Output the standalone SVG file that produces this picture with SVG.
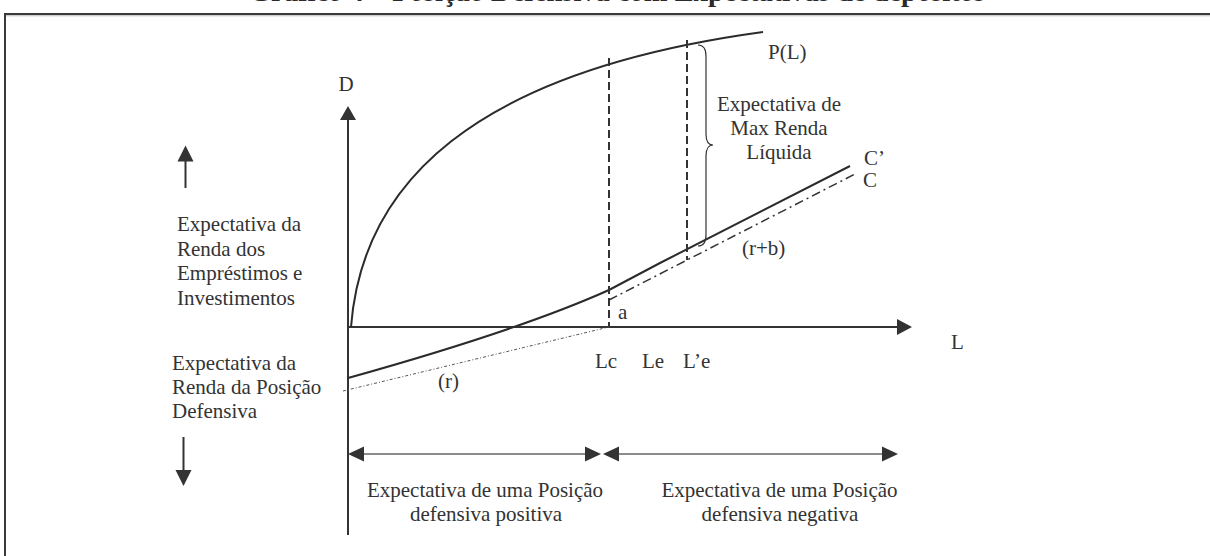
<svg xmlns="http://www.w3.org/2000/svg" width="1210" height="556" viewBox="0 0 1210 556">
<style>
text{font-family:"Liberation Serif","Times New Roman",serif;font-size:21px;fill:#333}
.title{font-weight:bold;font-size:28.5px;fill:#2a2a2a}
.ax{stroke:#333;stroke-width:2;fill:none}
.head{fill:#333;stroke:none}
.dash{stroke:#333;stroke-width:2;stroke-dasharray:8 4;fill:none}
.dd{stroke:#333;stroke-width:1.5;stroke-dasharray:9 4 2 4;fill:none}
.dot{stroke:#555;stroke-width:1;stroke-dasharray:3 2 1 2;fill:none}
.thin{stroke:#666;stroke-width:1.5;fill:none}
.cur{stroke:#2b2b2b;stroke-width:2;fill:none}
.mid{text-anchor:middle}
</style>
<rect width="1210" height="556" fill="#fff"/>
<g id="frame">
<text class="title mid" x="617" y="0.5">Gráfico 4 – Posição Defensiva com Expectativas de depósitos</text>
<line x1="4" y1="14" x2="1210" y2="14" stroke="#3a3a3a" stroke-width="2"/>
<line x1="6" y1="15.8" x2="1210" y2="15.8" stroke="#bbb" stroke-width="1"/>
<line x1="5" y1="13" x2="5" y2="556" stroke="#3a3a3a" stroke-width="2"/>
</g>
<g id="axis-D">
<line class="ax" x1="348" y1="535" x2="348" y2="118"/>
<polygon class="head" points="348,106 340,120 356,120"/>
<text class="mid" x="346" y="91">D</text>
</g>
<g id="axis-L">
<line class="ax" x1="348" y1="327" x2="899" y2="327"/>
<polygon class="head" points="912,327 897,319 897,335"/>
<text x="951" y="349">L</text>
</g>
<g id="connectors">
<path id="curve-PL" class="cur" d="M351,327 C362,185 470,72 763,32"/>
<path id="curve-Cp" class="cur" d="M348,378 Q520,330 609,290 Q630,279 660,263 L850,166"/>
<line id="line-C" class="dd" x1="609" y1="300" x2="857" y2="173"/>
<line id="line-r" class="dot" x1="343" y1="391" x2="609" y2="327"/>
<line id="v-Lc" class="dash" x1="609" y1="58" x2="609" y2="327"/>
<line id="v-Le" class="dash" x1="687" y1="40" x2="687" y2="260"/>
<path id="brace" d="M698,45 Q706,45 706,56 L706,134 Q706,145 713,145 Q706,145 706,156 L706,235 Q706,246 698,246" stroke="#333" stroke-width="1.2" fill="none"/>
</g>
<g id="labels-curves">
<text x="768" y="59">P(L)</text>
<text class="mid" x="779" y="111">Expectativa de</text>
<text class="mid" x="779" y="135">Max Renda</text>
<text class="mid" x="779" y="159">Líquida</text>
<text x="864" y="165">C’</text>
<text x="863" y="187">C</text>
<text x="742" y="255">(r+b)</text>
<text x="618" y="319">a</text>
<text x="438" y="388">(r)</text>
<text x="595" y="368">Lc</text>
<text x="642" y="368">Le</text>
<text x="683" y="368">L’e</text>
</g>
<g id="left-upper">
<line class="ax" x1="185.5" y1="188" x2="185.5" y2="160"/>
<polygon class="head" points="185.5,145.5 177.5,161.5 193.5,161.5"/>
<text x="177" y="231">Expectativa da</text>
<text x="177" y="255.5">Renda dos</text>
<text x="177" y="280">Empréstimos e</text>
<text x="177" y="304.5">Investimentos</text>
</g>
<g id="left-lower">
<text x="172" y="370">Expectativa da</text>
<text x="172" y="394">Renda da Posição</text>
<text x="172" y="418">Defensiva</text>
<line class="ax" x1="183.5" y1="437" x2="183.5" y2="472"/>
<polygon class="head" points="183.5,486 175.5,470 191.5,470"/>
</g>
<g id="bottom-positive">
<line class="thin" x1="362" y1="454" x2="587" y2="454"/>
<polygon class="head" points="348,454 364,446.5 364,461.5"/>
<polygon class="head" points="601,454 585,446.5 585,461.5"/>
<text class="mid" x="485" y="497">Expectativa de uma Posição</text>
<text class="mid" x="486" y="521">defensiva positiva</text>
</g>
<g id="bottom-negative">
<line class="thin" x1="617" y1="454" x2="884" y2="454"/>
<polygon class="head" points="603,454 619,446.5 619,461.5"/>
<polygon class="head" points="898,454 882,446.5 882,461.5"/>
<text class="mid" x="779.5" y="497">Expectativa de uma Posição</text>
<text class="mid" x="780" y="521">defensiva negativa</text>
</g>
</svg>
